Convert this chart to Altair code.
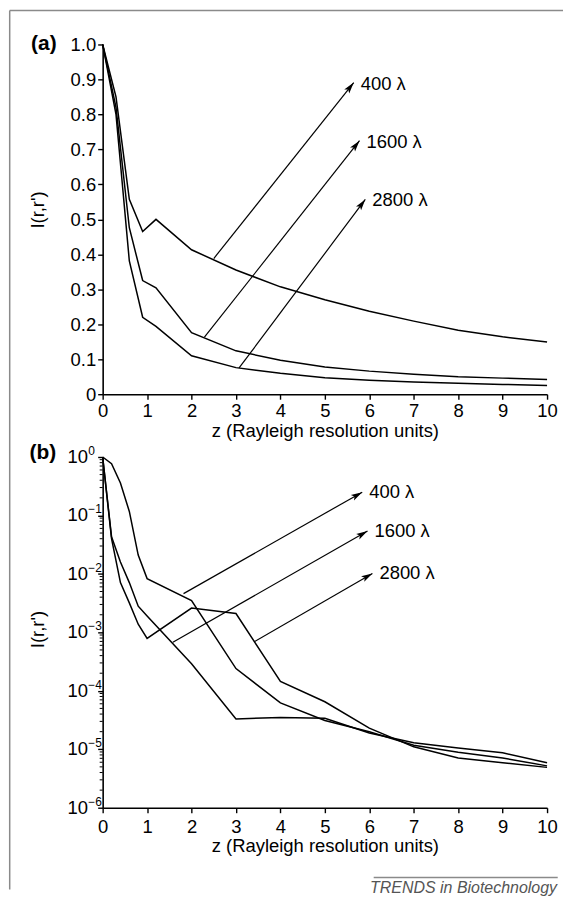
import math
import altair as alt
import pandas as pd

# ---------------- data ----------------
series_names = ["400 λ", "1600 λ", "2800 λ"]

# panel (a): linear intensity
z_a = [0, 0.3, 0.6, 0.9, 1.2, 2, 3, 4, 5, 6, 7, 8, 9, 10]
a_400 = [1.0, 0.85, 0.557, 0.465, 0.50, 0.413, 0.355, 0.307, 0.27, 0.237, 0.209, 0.183, 0.164, 0.149]
a_1600 = [1.0, 0.82, 0.476, 0.325, 0.304, 0.176, 0.124, 0.097, 0.078, 0.066, 0.057, 0.050, 0.046, 0.042]
a_2800 = [1.0, 0.80, 0.381, 0.220, 0.194, 0.110, 0.076, 0.060, 0.047, 0.040, 0.035, 0.031, 0.028, 0.025]

# panel (b): log intensity
z_b = [0, 0.2, 0.4, 0.6, 0.8, 1, 2, 3, 4, 5, 6, 7, 8, 9, 10]
b_400 = [1.0, 0.77, 0.36, 0.117, 0.021, 0.0083, 0.0035, 2.4e-4, 6.2e-5, 3.1e-5, 2.0e-5, 1.17e-5, 8.9e-6, 7.1e-6, 5.2e-6]
b_1600 = [1.0, 0.043, 0.016, 7.1e-3, 2.8e-3, 1.9e-3, 2.9e-4, 3.3e-5, 3.5e-5, 3.4e-5, 1.9e-5, 1.29e-5, 1.05e-5, 8.7e-6, 5.9e-6]
b_2800 = [1.0, 0.040, 7.1e-3, 3.2e-3, 1.38e-3, 7.9e-4, 2.6e-3, 2.1e-3, 1.45e-4, 6.5e-5, 2.3e-5, 1.1e-5, 7.1e-6, 5.9e-6, 4.9e-6]

# annotation arrows (start on curve -> tip near label)
arr_a_z1 = [2.5, 2.29, 3.07]
arr_a_i1 = [0.388, 0.163, 0.075]
arr_a_z2 = [5.65, 5.78, 5.91]
arr_a_i2 = [0.891, 0.725, 0.557]

arr_b_z1 = [1.82, 1.58, 3.41]
arr_b_i1 = [4.6e-3, 6.8e-4, 6.9e-4]
arr_b_z2 = [5.84, 5.96, 6.07]
arr_b_i2 = [0.25, 0.054, 0.0102]

x_ticks = list(range(11))
ya_ticks = [0, 0.1, 0.2, 0.3, 0.4, 0.5, 0.6, 0.7, 0.8, 0.9, 1.0]
yb_decades = [1e-6, 1e-5, 1e-4, 1e-3, 1e-2, 1e-1, 1.0]
yb_exponents = ["−6", "−5", "−4", "−3", "−2", "−1", "0"]
yb_minor = [m * d for d in yb_decades[:-1] for m in range(2, 10)]

x_title = "z (Rayleigh resolution units)"
y_title = "I(r,r')"
footer = "TRENDS in Biotechnology"

# ---------------- layout ----------------
W, HA, HB, GAP = 446, 351, 352, 63
FONT = "Liberation Sans"
FS = 18.5
ARROW = "M0,0 L0.45,1.6 L0,1.25 L-0.45,1.6 Z"
dummy = pd.DataFrame({"k": [0]})


def long_df(z, cols):
    rows = []
    for name, vals in zip(series_names, cols):
        for zz, v in zip(z, vals):
            rows.append({"z": zz, "I": v, "series": name})
    return pd.DataFrame(rows)


df_a = long_df(z_a, [a_400, a_1600, a_2800])
df_b = long_df(z_b, [b_400, b_1600, b_2800])

arr_a = pd.DataFrame({"z1": arr_a_z1, "i1": arr_a_i1, "z2": arr_a_z2, "i2": arr_a_i2, "label": series_names})
arr_a["angle"] = [math.degrees(math.atan2((r.z2 - r.z1) * W / 10, (r.i2 - r.i1) * HA)) for r in arr_a.itertuples()]
arr_b = pd.DataFrame({"z1": arr_b_z1, "i1": arr_b_i1, "z2": arr_b_z2, "i2": arr_b_i2, "label": series_names})
arr_b["angle"] = [math.degrees(math.atan2((r.z2 - r.z1) * W / 10,
                                          (math.log10(r.i2) - math.log10(r.i1)) * HB / 6)) for r in arr_b.itertuples()]

xscale = alt.Scale(domain=[0, 10], nice=False, zero=False)


def xax(title_y, lab_pad):
    return alt.Axis(values=x_ticks, title=x_title, titleY=title_y, titleBaseline="alphabetic",
                    labelPadding=lab_pad, labelFlush=False, labelOverlap=False)


def X(field, title_y, lab_pad):
    return alt.X(field, type="quantitative", scale=xscale, axis=xax(title_y, lab_pad))


ya_scale = alt.Scale(domain=[0, 1], nice=False)
ya_axis = alt.Axis(values=ya_ticks, title=y_title, titleX=-55, titleY=165.6,
                   labelExpr="datum.value == 0 ? '0' : format(datum.value, '.1f')",
                   labelPadding=2, labelOverlap=False, labelFlush=False)


def YA(field):
    return alt.Y(field, type="quantitative", scale=ya_scale, axis=ya_axis)


yb_scale = alt.Scale(type="log", domain=[1e-6, 1], nice=False)
yb_axis = alt.Axis(values=yb_decades, labels=False, title=y_title, titleX=-55, titleY=172.7)


def YB(field):
    return alt.Y(field, type="quantitative", scale=yb_scale, axis=yb_axis)


TA, LA = 42, 2   # panel (a) x-axis title baseline / label padding
TB, LB = 44, 5   # panel (b)

# ---------------- panel (a) ----------------
frame_top = alt.Chart(dummy).mark_rule(color="#8a8a8a", strokeWidth=1.5).encode(
    x=alt.value(-93.3), x2=alt.value(462), y=alt.value(-34))
frame_left = alt.Chart(dummy).mark_rule(color="#8a8a8a", strokeWidth=1.5).encode(
    x=alt.value(-93.3), y=alt.value(-34), y2=alt.value(848))

curves_a = alt.Chart(df_a).mark_line(color="black", strokeWidth=1.5).encode(
    x=X("z", TA, LA), y=YA("I"), detail="series:N")
rules_a = alt.Chart(arr_a).mark_rule(color="black", strokeWidth=1.2).encode(
    x=X("z1", TA, LA), y=YA("i1"), x2="z2", y2="i2")
heads_a = alt.Chart(arr_a).mark_point(shape=ARROW, filled=True, color="black", opacity=1, size=200).encode(
    x=X("z2", TA, LA), y=YA("i2"), angle=alt.Angle("angle:Q", scale=None))
text_a = alt.Chart(arr_a).mark_text(align="left", baseline="middle", dx=7, dy=1, fontSize=FS, color="black").encode(
    x=X("z2", TA, LA), y=YA("i2"), text="label:N")
tag_a = alt.Chart(dummy).mark_text(text="(a)", fontWeight="bold", fontSize=21, align="center",
                                   baseline="middle", color="black").encode(
    x=alt.value(-59), y=alt.value(-0.5))

panel_a = alt.layer(frame_top, frame_left, curves_a, rules_a, heads_a, text_a, tag_a).properties(
    width=W, height=HA)

# ---------------- panel (b) ----------------
dec_df = pd.DataFrame({"v": yb_decades, "exp": yb_exponents})
minor_df = pd.DataFrame({"v": yb_minor})

curves_b = alt.Chart(df_b).mark_line(color="black", strokeWidth=1.5).encode(
    x=X("z", TB, LB), y=YB("I"), detail="series:N")
rules_b = alt.Chart(arr_b).mark_rule(color="black", strokeWidth=1.2).encode(
    x=X("z1", TB, LB), y=YB("i1"), x2="z2", y2="i2")
heads_b = alt.Chart(arr_b).mark_point(shape=ARROW, filled=True, color="black", opacity=1, size=200).encode(
    x=X("z2", TB, LB), y=YB("i2"), angle=alt.Angle("angle:Q", scale=None))
text_b = alt.Chart(arr_b).mark_text(align="left", baseline="middle", dx=7, dy=0, fontSize=FS, color="black").encode(
    x=X("z2", TB, LB), y=YB("i2"), text="label:N")
minor_b = alt.Chart(minor_df).mark_rule(color="black", strokeWidth=1).encode(
    y=YB("v"), x=alt.value(-3), x2=alt.value(0))
ten_b = alt.Chart(dec_df).mark_text(text="10", align="right", baseline="middle", fontSize=FS, color="black").encode(
    y=YB("v"), x=alt.value(-14.7))
exp_b = alt.Chart(dec_df).mark_text(align="left", baseline="middle", dy=-6, fontSize=12, color="black").encode(
    y=YB("v"), x=alt.value(-14.5), text="exp:N")
tag_b = alt.Chart(dummy).mark_text(text="(b)", fontWeight="bold", fontSize=21, align="center",
                                   baseline="middle", color="black").encode(
    x=alt.value(-60), y=alt.value(-4))
foot_rule = alt.Chart(dummy).mark_rule(color="#8a8a8a", strokeWidth=1.5).encode(
    x=alt.value(272), x2=alt.value(456.7), y=alt.value(422))
foot_text = alt.Chart(dummy).mark_text(text=footer, align="right", baseline="alphabetic", fontSize=16,
                                       fontStyle="italic", color="#555555").encode(
    x=alt.value(456), y=alt.value(437.7))

panel_b = alt.layer(curves_b, rules_b, heads_b, text_b, minor_b, ten_b, exp_b, tag_b,
                    foot_rule, foot_text).properties(width=W, height=HB)

chart = alt.vconcat(panel_a, panel_b, spacing=GAP, bounds="flush").properties(
    padding=0
).configure(font=FONT).configure_view(stroke=None).configure_axis(
    domainColor="black", domainWidth=1.6, tickColor="black", tickWidth=1.4, tickSize=5,
    labelColor="black", labelFontSize=FS, labelFont=FONT,
    titleColor="black", titleFontSize=FS, titleFontWeight="normal", titleFont=FONT, grid=False
)

chart.save("out.html", embed_options={"renderer": "svg", "actions": False})
